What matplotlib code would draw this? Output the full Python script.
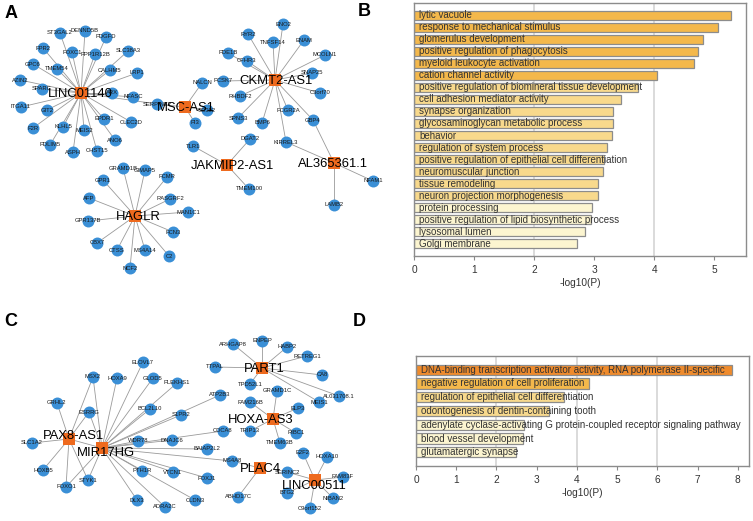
import matplotlib
matplotlib.use('Agg')
import matplotlib.pyplot as plt

plt.rcParams['font.family'] = ['Liberation Sans', 'DejaVu Sans']

W, H = 753, 521
NODE_BLUE = '#3A8FD6'
HUB_ORANGE = '#EE6A1E'
EDGE_GRAY = '#9a9a9a'

# ---- networks: hub -> partner genes ----
net_a = {
    'LINC01140': ['ST3GAL2', 'DENND5B', 'PDGFD', 'FPR2', 'FOXC1', 'PPP1R12B', 'SLC38A3',
                  'GPC6', 'TMEM54', 'CALHM5', 'LRP1', 'AZIN2', 'SPARC', 'ARX', 'NFASC',
                  'ITGA11', 'GIT2', 'EPDR1', 'CLEC2D', 'F2R', 'KLHL5', 'MEIS2', 'ANO6',
                  'PDLIM5', 'ASPH', 'CHST15', 'SERPINE2'],
    'MSC-AS1': ['SERPINE2', 'NALCN', 'CD302', 'PI3'],
    'CKMT2-AS1': ['ENO2', 'RYR2', 'TNFSF14', 'ENAM', 'PDE1B', 'CFHR3', 'MCOLN1', 'SNAP25',
                  'PCSK7', 'C3orf70', 'RHBDF2', 'FCGR2A', 'SPNS3', 'BMP6', 'GBP4', 'KIRREL3'],
    'JAKMIP2-AS1': ['TLR1', 'DGAT2', 'TMEM100'],
    'AL365361.1': ['KIRREL3', 'NFAM1', 'LAMB2', 'GBP4'],
    'HAGLR': ['GRAMD1B', 'GIMAP5', 'GPR1', 'FCMR', 'AFP', 'RASGRF2', 'MAN1C1', 'GPR137B',
              'FCN3', 'CBX7', 'CTSS', 'MS4A14', 'C2', 'NCF2'],
}
net_c = {
    'MIR17HG': ['ELOVL7', 'MSX2', 'HOXA9', 'GLOD5', 'PLEKHS1', 'ESRRG', 'BCL2L10', 'S1PR2',
                'ATP2B3', 'WDR78', 'DNAJC6', 'CDCA8', 'BAIAP2L2', 'MS4A8', 'PTH1R', 'VTCN1',
                'FOXJ1', 'CLDN3', 'DLX3', 'ADRA2C', 'STYK1', 'FOXO1', 'PAX8-AS1'],
    'PAX8-AS1': ['GRHL2', 'ESRRG', 'SLC1A2', 'HOXB5', 'FOXO1', 'STYK1', 'MSX2'],
    'PART1': ['ARHGAP8', 'ENPEP', 'HABP2', 'RETREG1', 'TTPAL', 'CA8', 'TPD52L1',
              'AL031708.1', 'MEIS1'],
    'HOXA-AS3': ['GRAMD1C', 'FAM216B', 'ELP3', 'RIBC1', 'TMEM63B', 'TRIP13'],
    'PLAC4': ['MS4A8', 'ABHD17C'],
    'LINC00511': ['E2F2', 'HOXA10', 'SERINC2', 'FAM83F', 'BTG2', 'NIBAN2', 'C9orf152'],
}

# layout (pixel positions, y downwards)
pos = {
    'LINC01140': (81, 93), 'MSC-AS1': (185, 107), 'CKMT2-AS1': (275, 80),
    'JAKMIP2-AS1': (227, 165), 'AL365361.1': (334, 163), 'HAGLR': (135, 216),
    'ST3GAL2': (60, 33), 'DENND5B': (85, 31), 'PDGFD': (106, 37), 'FPR2': (43, 48),
    'FOXC1': (72, 52), 'PPP1R12B': (95, 54), 'SLC38A3': (128, 51), 'GPC6': (33, 64),
    'TMEM54': (57, 69), 'CALHM5': (110, 70), 'LRP1': (137, 73), 'AZIN2': (20, 80),
    'SPARC': (42, 89), 'ARX': (112, 93), 'NFASC': (133, 97), 'ITGA11': (21, 107),
    'GIT2': (47, 110), 'EPDR1': (104, 119), 'CLEC2D': (131, 122), 'F2R': (33, 128),
    'KLHL5': (63, 127), 'MEIS2': (84, 130), 'ANO6': (115, 140), 'PDLIM5': (50, 145),
    'ASPH': (73, 152), 'CHST15': (97, 151), 'SERPINE2': (157, 104),
    'NALCN': (202, 83), 'CD302': (207, 110), 'PI3': (195, 123),
    'ENO2': (283, 24), 'RYR2': (248, 34), 'TNFSF14': (273, 42), 'ENAM': (304, 40),
    'PDE1B': (228, 53), 'CFHR3': (247, 61), 'MCOLN1': (325, 55), 'SNAP25': (312, 73),
    'PCSK7': (223, 81), 'C3orf70': (320, 93), 'RHBDF2': (240, 96), 'FCGR2A': (288, 110),
    'SPNS3': (238, 118), 'BMP6': (262, 123), 'GBP4': (313, 120), 'KIRREL3': (286, 142),
    'TLR1': (193, 146), 'DGAT2': (250, 139), 'TMEM100': (249, 189),
    'NFAM1': (373, 181), 'LAMB2': (334, 205),
    'GRAMD1B': (123, 168), 'GIMAP5': (145, 170), 'GPR1': (103, 180), 'FCMR': (167, 177),
    'AFP': (89, 198), 'RASGRF2': (170, 199), 'MAN1C1': (188, 212), 'GPR137B': (88, 221),
    'FCN3': (173, 232), 'CBX7': (97, 243), 'CTSS': (117, 250), 'MS4A14': (145, 250),
    'C2': (169, 256), 'NCF2': (130, 268),
    'MIR17HG': (102, 448), 'PAX8-AS1': (69, 439), 'PART1': (262, 368),
    'HOXA-AS3': (273, 419), 'PLAC4': (260, 468), 'LINC00511': (315, 480),
    'ELOVL7': (143, 362), 'MSX2': (93, 377), 'HOXA9': (117, 378), 'GLOD5': (153, 378),
    'PLEKHS1': (177, 383), 'GRHL2': (57, 403), 'ESRRG': (89, 412), 'BCL2L10': (150, 409),
    'S1PR2': (181, 415), 'ATP2B3': (220, 395), 'SLC1A2': (32, 443), 'WDR78': (138, 441),
    'DNAJC6': (172, 440), 'CDCA8': (223, 431), 'BAIAP2L2': (207, 449), 'MS4A8': (232, 461),
    'HOXB5': (43, 470), 'FOXO1': (66, 487), 'STYK1': (88, 480), 'PTH1R': (142, 471),
    'VTCN1': (173, 472), 'FOXJ1': (207, 478), 'CLDN3': (195, 500), 'DLX3': (137, 500),
    'ADRA2C': (165, 507), 'ABHD17C': (238, 497),
    'ARHGAP8': (233, 344), 'ENPEP': (262, 341), 'HABP2': (287, 347), 'RETREG1': (307, 356),
    'TTPAL': (215, 367), 'CA8': (322, 375), 'TPD52L1': (250, 384), 'AL031708.1': (339, 396),
    'MEIS1': (319, 402), 'GRAMD1C': (277, 391), 'FAM216B': (250, 402), 'ELP3': (298, 408),
    'TRIP13': (250, 431), 'RIBC1': (296, 433), 'TMEM63B': (280, 443),
    'E2F2': (303, 453), 'HOXA10': (327, 457), 'SERINC2': (287, 472), 'FAM83F': (343, 477),
    'BTG2': (287, 493), 'NIBAN2': (333, 498), 'C9orf152': (310, 508),
}
hub_label_pos = {
    'LINC01140': (80, 94), 'MSC-AS1': (186, 108), 'CKMT2-AS1': (276, 81),
    'JAKMIP2-AS1': (232, 166), 'AL365361.1': (333, 164), 'HAGLR': (138, 217),
    'PAX8-AS1': (73, 436), 'MIR17HG': (106, 453), 'PART1': (264, 369),
    'HOXA-AS3': (261, 420), 'PLAC4': (260, 469), 'LINC00511': (314, 486),
}

# ---- enrichment bars ----
terms_b = ['lytic vacuole', 'response to mechanical stimulus', 'glomerulus development',
           'positive regulation of phagocytosis', 'myeloid leukocyte activation',
           'cation channel activity', 'positive regulation of biomineral tissue development',
           'cell adhesion mediator activity', 'synapse organization',
           'glycosaminoglycan metabolic process', 'behavior', 'regulation of system process',
           'positive regulation of epithelial cell differentiation', 'neuromuscular junction',
           'tissue remodeling', 'neuron projection morphogenesis', 'protein processing',
           'positive regulation of lipid biosynthetic process', 'lysosomal lumen',
           'Golgi membrane']
vals_b = [5.28, 5.06, 4.81, 4.73, 4.67, 4.04, 3.73, 3.44, 3.31, 3.31, 3.30, 3.22, 3.16,
          3.14, 3.07, 3.06, 2.97, 2.95, 2.84, 2.72]
tier_b = [1, 1, 1, 1, 1, 1, 2, 2, 2, 2, 2, 2, 2, 2, 2, 2, 3, 3, 3, 3]

terms_d = ['DNA-binding transcription activator activity, RNA polymerase II-specific',
           'negative regulation of cell proliferation',
           'regulation of epithelial cell differentiation',
           'odontogenesis of dentin-containing tooth',
           'adenylate cyclase-activating G protein-coupled receptor signaling pathway',
           'blood vessel development', 'glutamatergic synapse']
vals_d = [7.85, 4.29, 3.67, 3.30, 2.69, 2.65, 2.48]
tier_d = [0, 1, 2, 2, 3, 3, 3]

TIER_COLOR = {0: '#EF8B2C', 1: '#F4B84B', 2: '#F8D98C', 3: '#FCF5D0'}


def draw_network(ax, net):
    for hub, partners in net.items():
        for p in partners:
            (x0, y0), (x1, y1) = pos[hub], pos[p]
            ax.plot([x0, x1], [y0, y1], color=EDGE_GRAY, lw=0.6, zorder=1)
    genes = []
    for hub, partners in net.items():
        for p in partners:
            if p not in net and p not in genes:
                genes.append(p)
    ax.scatter([pos[g][0] for g in genes], [pos[g][1] for g in genes],
               s=74, c=NODE_BLUE, marker='o', linewidths=0, zorder=2)
    hubs = list(net.keys())
    ax.scatter([pos[h][0] for h in hubs], [pos[h][1] for h in hubs],
               s=84, c=HUB_ORANGE, marker='s', linewidths=0, zorder=3)
    for g in genes:
        ax.text(pos[g][0], pos[g][1], g, fontsize=4.2, color='#1a1a1a',
                ha='center', va='center', zorder=4)
    for h in hubs:
        x, y = hub_label_pos[h]
        ax.text(x, y, h, fontsize=9.4, color='black', ha='center', va='center', zorder=5)


def draw_bars(ax, terms, vals, tiers, xmax, xticks, grid):
    ys = range(len(terms))
    for g in grid:
        ax.axvline(g, color='#d4d4d4', lw=1.2, zorder=0)
    ax.barh(list(ys), vals, height=0.74, color=[TIER_COLOR[t] for t in tiers],
            edgecolor='#8c8c8c', linewidth=0.9, zorder=2)
    for y, t in zip(ys, terms):
        ax.annotate(t, (0, y), xytext=(3.6, 0), textcoords='offset points',
                    fontsize=7, color='#333333', va='center', ha='left', zorder=3)
    ax.set_xlim(0, xmax)
    ax.set_ylim(len(terms), -1)
    ax.set_yticks([])
    ax.set_xticks(xticks)
    ax.tick_params(axis='x', labelsize=7.3, colors='#333333', length=3, color='#888888')
    for s in ax.spines.values():
        s.set_color('#8c8c8c')
        s.set_linewidth(1.0)
    ax.set_xlabel('-log10(P)', fontsize=7.3, color='#333333', labelpad=2)


fig = plt.figure(figsize=(W / 100, H / 100), dpi=100)
net = fig.add_axes([0, 0, 1, 1])
net.set_xlim(0, W)
net.set_ylim(H, 0)
net.axis('off')
draw_network(net, net_a)
draw_network(net, net_c)

for letter, (x, y) in {'A': (11, 13), 'B': (364, 12), 'C': (11, 321), 'D': (359, 321)}.items():
    net.text(x, y, letter, fontsize=13, fontweight='bold', ha='center', va='center')


def px_axes(l, t, r, b):
    return fig.add_axes([l / W, 1 - b / H, (r - l) / W, (b - t) / H])


ax_b = px_axes(414, 3, 746, 256)
draw_bars(ax_b, terms_b, vals_b, tier_b, 5.53, [0, 1, 2, 3, 4, 5], [2, 4])

ax_d = px_axes(416, 356, 749, 466)
draw_bars(ax_d, terms_d, vals_d, tier_d, 8.28, list(range(9)), [2, 4, 6])

fig.savefig('out.png', dpi=100)
